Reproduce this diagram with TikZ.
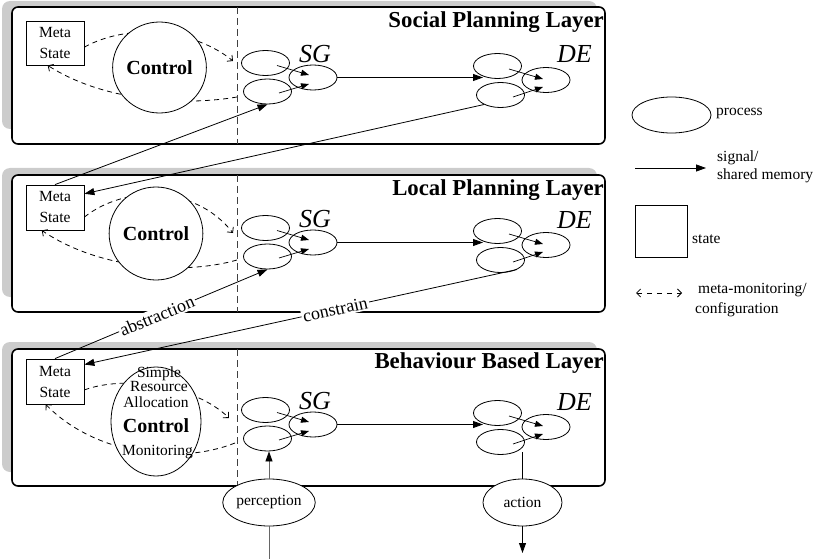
\documentclass[tikz,border=0pt]{standalone}
\usepackage{fontspec}
\setmainfont{Liberation Serif}
\usetikzlibrary{arrows.meta,shapes.geometric,calc}
\newcommand{\procgroup}[2]{%
  \node[proc] (#1-sa) at (265.5,{#2-14.5}) {};
  \node[proc] (#1-sb) at (267.5,{#2+14}) {};
  \node[proc] (#1-sg) at (313,#2) {};
  \node[grp] (#1-sgl) at (315,{#2-15}) {SG};
  \node[proc] (#1-da) at (497.5,{#2-11.5}) {};
  \node[proc] (#1-db) at (500.5,{#2+17.5}) {};
  \node[proc] (#1-de) at (546,{#2+2.5}) {};
  \node[grp] (#1-del) at (574.5,{#2-14.5}) {DE};
  \coordinate (#1-tip) at (483,#2);
  \draw[sig] (#1-sg.east) -- (#1-tip);
  \draw[sigs] ($(#1-sa)+(11.5,2.5)$) -- ($(#1-sg)+(-4,-2.5)$);
  \draw[sigs] ($(#1-sb)+(11.5,1.5)$) -- ($(#1-sg)+(-4,6.5)$);
  \draw[sigs] ($(#1-da)+(11.5,3)$) -- ($(#1-de)+(-3,-1)$);
  \draw[sigs] ($(#1-db)+(12.5,2)$) -- ($(#1-de)+(-3,7)$);
}
\begin{document}
\begin{tikzpicture}[x=1pt,y=-1pt,
  shadowbox/.style={fill=black!20, draw=none, rounded corners=8pt},
  layerbox/.style={fill=white, draw=black, line width=1.6pt, rounded corners=6pt},
  sepline/.style={draw=black!75, dash pattern=on 7pt off 4pt, line width=0.8pt},
  ctrl/.style={ellipse, draw, fill=white, line width=0.8pt, inner sep=0pt, font=\fontsize{20}{22}\selectfont\bfseries},
  metabox/.style={rectangle, draw, fill=white, line width=0.8pt, inner sep=0pt, minimum width=58pt, minimum height=44pt, align=center, font=\fontsize{15.5}{21}\selectfont},
  proc/.style={ellipse, draw, line width=0.8pt, minimum width=48pt, minimum height=25pt, inner sep=0pt},
  io/.style={ellipse, draw, fill=white, line width=0.8pt, minimum width=79pt, minimum height=47pt, inner sep=0pt, font=\fontsize{15.5}{18}\selectfont},
  grp/.style={font=\fontsize{26}{28}\selectfont\itshape, anchor=base, inner sep=0pt},
  laytitle/.style={font=\fontsize{22.8}{25}\selectfont\bfseries, anchor=base east, inner sep=0pt},
  txt/.style={font=\fontsize{15.5}{17}\selectfont, inner sep=0pt},
  ctxt/.style={font=\fontsize{15.5}{17}\selectfont, inner sep=0pt, anchor=base},
  lbl/.style={font=\fontsize{18}{20}\selectfont, fill=white, inner sep=1.5pt},
  sig/.style={-{Triangle[length=10pt,width=7pt]}, line width=0.8pt},
  sigs/.style={-{Triangle[length=8pt,width=6pt]}, line width=0.7pt},
  monarrow/.style={dash pattern=on 5pt off 4pt, line width=0.8pt, -{Straight Barb[length=4pt,width=8pt]}}
]
\useasboundingbox (0,0) rectangle (817,559);

% layer frames
\fill[shadowbox] (2,1) rectangle (597,129);
\draw[layerbox] (12,7) rectangle (605,144);
\fill[shadowbox] (2,168) rectangle (597,297);
\draw[layerbox] (12,175) rectangle (605,312);
\fill[shadowbox] (2,342) rectangle (597,472);
\draw[layerbox] (12,349) rectangle (605,486);

\draw[sepline] (237,7) -- (237,144);
\draw[sepline] (237,175) -- (237,312);
\draw[sepline] (237,349) -- (237,486);

% meta state boxes
\node[metabox] (m1) at (55,43) {Meta\\State};
\node[metabox, minimum height=45pt] (m2) at (55,207.5) {Meta\\State};
\node[metabox, minimum height=45pt] (m3) at (55,381.5) {Meta\\State};

% meta-monitoring curves
\coordinate (u1) at (233,61);
\coordinate (l1) at (237,97);
\draw[monarrow] (m1.-8) .. controls (130,22) and (195,30) .. (u1);
\draw[monarrow] (l1) .. controls (185,106) and (105,102) .. (m1.-108);
\coordinate (u2) at (233,233);
\coordinate (l2) at (237,260);
\draw[monarrow] (m2.-18) .. controls (125,185) and (195,185) .. (u2);
\draw[monarrow] (l2) .. controls (185,275) and (100,270) .. (m2.-120);
\coordinate (u3) at (229,418);
\coordinate (l3) at (235,443);
\draw[monarrow] (m3.-16) .. controls (125,375) and (195,385) .. (u3);
\draw[monarrow] (l3) .. controls (180,465) and (95,455) .. (m3.-112);

% control ellipses
\node[ctrl, minimum width=83pt, minimum height=91pt] (c1) at (159.5,67.5) {Control};
\node[ctrl, minimum width=82pt, minimum height=93pt] (c2) at (156,233.5) {Control};
\node[ctrl, minimum width=90pt, minimum height=109pt] (c3) at (156,421.5) {};
\node[ctxt] (c3a) at (159,377) {Simple};
\node[ctxt] (c3b) at (159,391) {Resource};
\node[ctxt] (c3c) at (156,407) {Allocation};
\node[ctxt, font=\fontsize{20}{22}\selectfont\bfseries] (c3d) at (156,432) {Control};
\node[ctxt] (c3e) at (157.5,455) {Monitoring};

% process groups
\procgroup{p1}{77.5}
\procgroup{p2}{242.5}
\procgroup{p3}{424.5}

% titles
\node[laytitle] (t1) at (604,28) {Social Planning Layer};
\node[laytitle] (t2) at (604,196) {Local Planning Layer};
\node[laytitle] (t3) at (604,368) {Behaviour Based Layer};

% inter-layer connections
\draw[sig] (m2.north) -- (p1-sb.south);
\draw[sig] (p1-db.-150) -- (m2.25);
\draw[sig] (m3.north) -- node[lbl, sloped, pos=0.48] (abs) {abstraction} (p2-sb.south);
\draw[sig] (p2-db.-30) -- node[lbl, sloped, pos=0.42] (con) {constrain} (m3.30);

% perception / action
\node[io] (perc) at (269,502.5) {perception};
\coordinate (pin) at (269,559);
\draw[line width=0.8pt, draw=black!60] (pin) -- (perc.south);
\draw[sig, draw=black!60, -{Triangle[length=10pt,width=7pt,color=black]}] (perc.north) -- (perc.north |- p3-sb.south);
\node[io] (act) at (522.5,502.5) {action};
\coordinate (actin) at (522.5,452);
\coordinate (actout) at (522.5,553);
\draw[line width=0.8pt] (actin) -- (act.north);
\draw[sig] (act.south) -- (actout);

% legend
\node[proc, minimum width=79pt, minimum height=36pt] (lp) at (671.5,115) {};
\node[txt, anchor=west] (lpt) at (716,113) {process};
\coordinate (ls1) at (635,168);
\coordinate (ls2) at (706,168);
\draw[sig] (ls1) -- (ls2);
\node[txt, anchor=base west] (lst1) at (717,162) {signal/};
\node[txt, anchor=base west] (lst2) at (717,179) {shared memory};
\node[draw, line width=0.8pt, minimum size=52pt, inner sep=0pt] (lsq) at (661,231) {};
\node[txt, anchor=base west] (lsqt) at (692,243) {state};
\coordinate (lm1) at (636,293);
\coordinate (lm2) at (682,293);
\draw[monarrow, dash pattern=on 5pt off 5pt, {Straight Barb[length=4pt,width=8pt]}-{Straight Barb[length=4pt,width=8pt]}] (lm1) -- (lm2);
\node[txt, anchor=base west] (lmt1) at (698,293) {meta-monitoring/};
\node[txt, anchor=base west] (lmt2) at (695,313) {configuration};
\end{tikzpicture}
\end{document}
